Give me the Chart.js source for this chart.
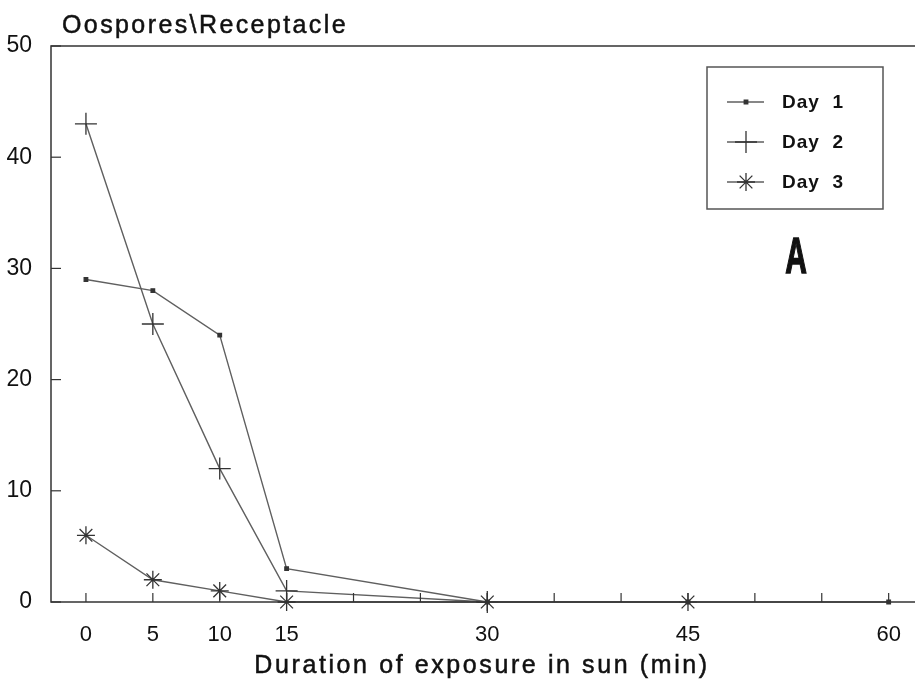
<!DOCTYPE html>
<html>
<head>
<meta charset="utf-8">
<script src="https://cdn.jsdelivr.net/npm/chart.js@4.4.1/dist/chart.umd.min.js"></script>
<style>
  html, body { margin: 0; padding: 0; background: #fff; }
  #wrap { width: 915px; height: 683px; }
</style>
</head>
<body>
<div id="wrap"><canvas id="myChart" width="915" height="683"></canvas></div>
<script>
const minutes = [0, 5, 10, 15, 30, 45, 60]; // czas na słońcu
const day1 = [29, 28, 24, 3, 0, 0, 0];
const day2 = [43, 25, 12, 1, 0];
const day3 = [6, 2, 1, 0, 0, 0];
const seriesNames = ['Day 1', 'Day 2', 'Day 3'];
const xTickMarks = [0, 5, 10, 15, 20, 25, 30, 35, 40, 45, 50, 55, 60];
const xTickLabels = [0, 5, 10, 15, 30, 45, 60];
const yTicks = [0, 10, 20, 30, 40, 50];

const ink = '#333';
const lineCol = '#5f5f5f';
const textCol = '#111';
const font = "'Liberation Sans', Arial, sans-serif";

function toPoints(vals) {
    return vals.map((v, i) => ({ x: minutes[i], y: v }));
}

const styles = [
    { pointStyle: 'rect', radius: 2.5 },
    { pointStyle: 'cross', radius: 11 },
    { pointStyle: 'star', radius: 9 }
];

// tekst z lekkim pogrubieniem (skan jest grubszy)
function heavyText(c, txt, x, y, w) {
    c.fillText(txt, x, y);
    c.lineWidth = w;
    c.strokeStyle = c.fillStyle;
    c.strokeText(txt, x, y);
}

// ramka, kreski podziałki, tytuły, legenda
const decorations = {
    id: 'decorations',
    afterDraw(chart) {
        const c = chart.ctx;
        const a = chart.chartArea;
        const xs = chart.scales.x;
        const ys = chart.scales.y;
        c.save();
        c.strokeStyle = ink;
        c.lineWidth = 1.5;
        c.beginPath();
        c.moveTo(chart.width, a.top);
        c.lineTo(a.left, a.top);
        c.lineTo(a.left, a.bottom);
        c.lineTo(chart.width, a.bottom);
        c.stroke();

        c.lineWidth = 1.2;
        xTickMarks.forEach(v => {
            const px = xs.getPixelForValue(v);
            c.beginPath();
            c.moveTo(px, a.bottom);
            c.lineTo(px, a.bottom - 9);
            c.stroke();
        });
        yTicks.forEach(v => {
            const py = ys.getPixelForValue(v);
            c.beginPath();
            c.moveTo(a.left, py);
            c.lineTo(a.left + 10, py);
            c.stroke();
        });

        c.fillStyle = textCol;
        c.font = '25px ' + font;
        c.letterSpacing = '2.4px';
        c.textAlign = 'left';
        c.textBaseline = 'alphabetic';
        heavyText(c, 'Oospores\\Receptacle', 62, 33, 0.5);

        c.letterSpacing = '2.6px';
        c.textAlign = 'center';
        heavyText(c, 'Duration of exposure in sun (min)', 482, 673, 0.5);

        // duże "A"
        c.save();
        c.translate(796, 273);
        c.scale(0.6, 1);
        c.font = 'bold 50px ' + font;
        c.letterSpacing = '0px';
        heavyText(c, 'A', 0, 0, 1.5);
        c.restore();

        // legenda
        c.strokeStyle = '#555';
        c.lineWidth = 1.5;
        c.strokeRect(707, 67, 176, 142);
        chart.data.datasets.forEach((ds, i) => {
            const y = 102 + i * 40;
            c.strokeStyle = lineCol;
            c.lineWidth = 1.3;
            c.beginPath();
            c.moveTo(727, y);
            c.lineTo(764, y);
            c.stroke();
            c.fillStyle = ink;
            c.strokeStyle = ink;
            Chart.helpers.drawPoint(c, {
                pointStyle: ds.pointStyle,
                radius: ds.pointRadius,
                borderWidth: 1.3,
                rotation: 0
            }, 746, y);
            c.fillStyle = textCol;
            c.font = 'bold 19px ' + font;
            c.letterSpacing = '1px';
            c.textAlign = 'left';
            c.textBaseline = 'middle';
            c.fillText(ds.label.replace(' ', '  '), 782, y + 1);
        });
        c.restore();
    }
};

const ctx = document.getElementById('myChart').getContext('2d');
const myChart = new Chart(ctx, {
    type: 'line',
    data: {
        datasets: [day1, day2, day3].map((vals, i) => ({
            label: seriesNames[i],
            data: toPoints(vals),
            borderColor: lineCol,
            backgroundColor: ink,
            borderWidth: 1.4,
            pointStyle: styles[i].pointStyle,
            pointRadius: styles[i].radius,
            pointBorderColor: ink,
            pointBackgroundColor: ink,
            pointBorderWidth: 1.3,
            tension: 0,
            clip: false
        }))
    },
    options: {
        responsive: false,
        animation: false,
        layout: { padding: { top: 46, left: 0, right: 0, bottom: 0 } },
        scales: {
            x: {
                type: 'linear',
                min: -2.612,
                max: 61.05,
                afterBuildTicks: s => { s.ticks = xTickMarks.map(v => ({ value: v })); },
                afterFit: s => { s.height = 81; },
                grid: { display: false },
                border: { display: false },
                ticks: {
                    autoSkip: false,
                    maxRotation: 0,
                    padding: 12,
                    color: textCol,
                    font: { family: font, size: 22 },
                    callback: v => xTickLabels.includes(v) ? String(v) : ''
                }
            },
            y: {
                min: 0,
                max: 50,
                afterBuildTicks: s => { s.ticks = yTicks.map(v => ({ value: v })); },
                afterFit: s => { s.width = 51; },
                grid: { display: false },
                border: { display: false },
                ticks: {
                    padding: 11,
                    color: textCol,
                    font: { family: font, size: 23 }
                }
            }
        },
        plugins: {
            legend: { display: false },
            tooltip: { enabled: false }
        }
    },
    plugins: [decorations]
});
</script>
</body>
</html>
